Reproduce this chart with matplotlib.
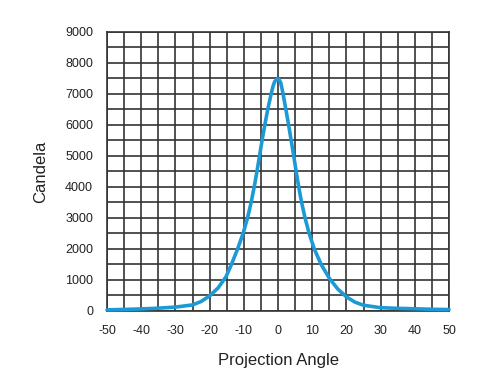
import matplotlib
matplotlib.use("Agg")
import matplotlib.pyplot as plt
import numpy as np

# Data
angles = [-50, -45, -40, -35, -30, -25, -22.5, -20, -17.5, -15.2, -13.6,
          -11.8, -10.2, -8.9, -7.85, -6.95, -6.15, -5.4, -4.65, -3.85, -3.0,
          -2.0, -1.5, -1.0, -0.4, 0.2, 0.8, 1.4, 2.3, 3.1, 3.85, 4.6, 5.3,
          6.05, 6.9, 7.9, 9.1, 10.6, 12.6, 15, 17.5, 20, 22.5, 25, 30, 35,
          40, 45, 50]
candela = [30, 45, 60, 85, 120, 190, 300, 480, 740, 1100, 1500,
           2000, 2500, 3000, 3500, 4000, 4500, 5000, 5500, 6000, 6500,
           7000, 7230, 7390, 7475, 7480, 7360, 7050, 6500, 6000, 5500, 5000, 4500,
           4000, 3500, 3000, 2500, 2000, 1500, 1050, 700, 450, 280, 180, 100, 80,
           65, 50, 40]

x_ticks = [-50, -40, -30, -20, -10, 0, 10, 20, 30, 40, 50]
y_ticks = [0, 1000, 2000, 3000, 4000, 5000, 6000, 7000, 8000, 9000]

plt.rcParams['font.family'] = ['Liberation Sans', 'DejaVu Sans']
plt.rcParams['axes.unicode_minus'] = False

fig = plt.figure(figsize=(5.0, 3.89), dpi=100)
ax = fig.add_axes([0.214, 0.201, 0.684, 0.717])

grid_color = '#333333'
ax.set_xlim(-50, 50)
ax.set_ylim(0, 9000)
ax.set_xticks(x_ticks)
ax.set_yticks(y_ticks)
ax.set_xticks(np.arange(-50, 51, 5), minor=True)
ax.set_yticks(np.arange(0, 9001, 500), minor=True)
ax.grid(which='both', color=grid_color, linewidth=1.2)
ax.set_axisbelow(True)
for s in ax.spines.values():
    s.set_color(grid_color)
    s.set_linewidth(1.2)

ax.tick_params(which='both', length=0)
ax.tick_params(axis='both', labelsize=9, colors='#222222', pad=10)

ax.plot(angles, candela, color='#1c9ad6', linewidth=2.6, solid_capstyle='round',
        solid_joinstyle='round', clip_on=False, zorder=3)

ax.set_xlabel('Projection Angle', fontsize=12, color='#222222', labelpad=12)
ax.set_ylabel('Candela', fontsize=12, color='#222222', labelpad=12)

fig.savefig('out.png', dpi=100, facecolor='white')
